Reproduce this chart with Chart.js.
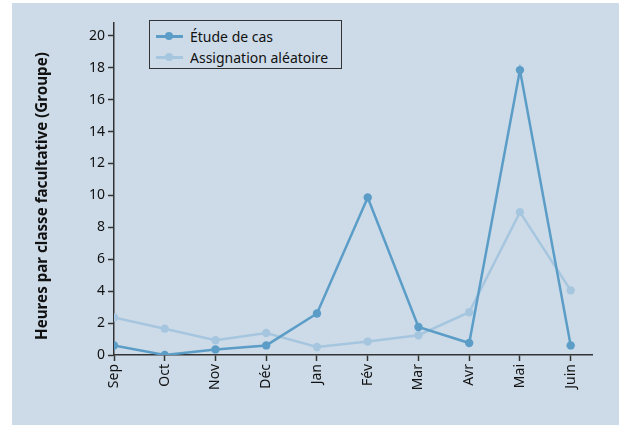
<!DOCTYPE html>
<html>
<head>
<meta charset="utf-8">
<script src="https://cdn.jsdelivr.net/npm/chart.js@4"></script>
<style>
  html, body { margin:0; padding:0; background:#ffffff; width:619px; height:425px; overflow:hidden; }
  #panel { position:absolute; left:12px; top:3px; width:607px; height:422px; background:#cddbe8; }
  #wrap { position:absolute; left:0; top:0; width:619px; height:425px; }
  #legend { position:absolute; left:149px; top:20px; width:191px; height:47px; border:1.5px solid #333; background:#cddbe8;
            font-family:"Noto Sans", "Open Sans", sans-serif; font-size:14px; color:#111; }
  .item { position:absolute; left:0; height:18px; display:flex; align-items:center; }
  .swatch { position:relative; width:27px; height:16px; margin-left:6px; margin-right:7px; }
  .swatch .ln { position:absolute; left:0; right:0; top:7px; height:2.5px; }
  .swatch .pt { position:absolute; left:9px; top:4px; width:8px; height:8px; border-radius:50%; }
</style>
</head>
<body>
<div id="panel"></div>
<div id="wrap"><canvas id="c" width="619" height="425"></canvas></div>
<div id="legend"></div>
<script>
const categories = ["Sep", "Oct", "Nov", "Déc", "Jan", "Fév", "Mar", "Avr", "Mai", "Juin"];
const etudeDeCas = [0.6, 0.0, 0.35, 0.6, 2.6, 9.87, 1.75, 0.75, 17.85, 0.6];
const assignation = [2.35, 1.65, 0.93, 1.38, 0.5, 0.84, 1.24, 2.68, 8.95, 4.05];
const seriesNames = ["Étude de cas", "Assignation aléatoire"];
const yTicks = [0, 2, 4, 6, 8, 10, 12, 14, 16, 18, 20];
const yTitle = "Heures par classe facultative (Groupe)";

const darkColor = "#5b9dc7";
const lightColor = "#a6c6df";
const axisColor = "#333333";
const fontFamily = '"Noto Sans", "Open Sans", sans-serif';

const toPoints = arr => arr.map((v, i) => ({ x: i, y: v }));

const titlePlugin = {
  id: 'yTitle',
  afterDraw(chart) {
    const ctx = chart.ctx;
    ctx.save();
    ctx.font = 'bold 13px ' + fontFamily;
    const w = ctx.measureText(yTitle).width;
    const size = Math.max(12, Math.min(16, 13 * 288 / w));
    ctx.font = 'bold ' + size.toFixed(2) + 'px ' + fontFamily;
    ctx.translate(43, 196);
    ctx.rotate(-Math.PI / 2);
    ctx.fillStyle = '#111';
    ctx.textAlign = 'center';
    ctx.textBaseline = 'middle';
    ctx.fillText(yTitle, 0, 0);
    ctx.restore();
  }
};

new Chart(document.getElementById('c'), {
  type: 'line',
  data: {
    datasets: [
      { label: seriesNames[0], data: toPoints(etudeDeCas), borderColor: darkColor, backgroundColor: darkColor,
        borderWidth: 2.5, pointRadius: 4.2, pointHoverRadius: 4.2, pointBorderWidth: 0, tension: 0 },
      { label: seriesNames[1], data: toPoints(assignation), borderColor: lightColor, backgroundColor: lightColor,
        borderWidth: 2.5, pointRadius: 4.2, pointHoverRadius: 4.2, pointBorderWidth: 0, tension: 0 }
    ]
  },
  options: {
    responsive: false,
    animation: false,
    devicePixelRatio: 1,
    layout: { padding: { left: 0, top: 23, right: 27, bottom: 0 } },
    plugins: { legend: { display: false }, tooltip: { enabled: false } },
    scales: {
      x: {
        type: 'linear', min: 0, max: 9.42,
        afterFit(scale) { scale.height = 70; },
        afterBuildTicks(scale) { scale.ticks = categories.map((c, i) => ({ value: i })); },
        ticks: {
          autoSkip: false, minRotation: 90, maxRotation: 90, padding: 3,
          color: '#111', font: { family: fontFamily, size: 14 },
          callback: (v) => categories[v]
        },
        grid: { drawOnChartArea: false, drawTicks: true, tickLength: 6, tickColor: axisColor, tickWidth: 1.5 },
        border: { display: true, color: axisColor, width: 1.5 }
      },
      y: {
        type: 'linear', min: 0, max: 20.8,
        afterFit(scale) { scale.width = 114; },
        afterBuildTicks(scale) { scale.ticks = yTicks.map(v => ({ value: v })); },
        ticks: { padding: 3, color: '#111', font: { family: fontFamily, size: 14 } },
        grid: { drawOnChartArea: false, drawTicks: true, tickLength: 6, tickColor: axisColor, tickWidth: 1.5 },
        border: { display: true, color: axisColor, width: 1.5 }
      }
    }
  },
  plugins: [titlePlugin]
});

// HTML legend built from series names
const legend = document.getElementById('legend');
[darkColor, lightColor].forEach((col, i) => {
  const it = document.createElement('div');
  it.className = 'item';
  it.style.top = (6 + i * 21) + 'px';
  it.innerHTML = '<div class="swatch"><div class="ln" style="background:' + col + '"></div><div class="pt" style="background:' + col + '"></div></div><span>' + seriesNames[i] + '</span>';
  legend.appendChild(it);
});
</script>
</body>
</html>
